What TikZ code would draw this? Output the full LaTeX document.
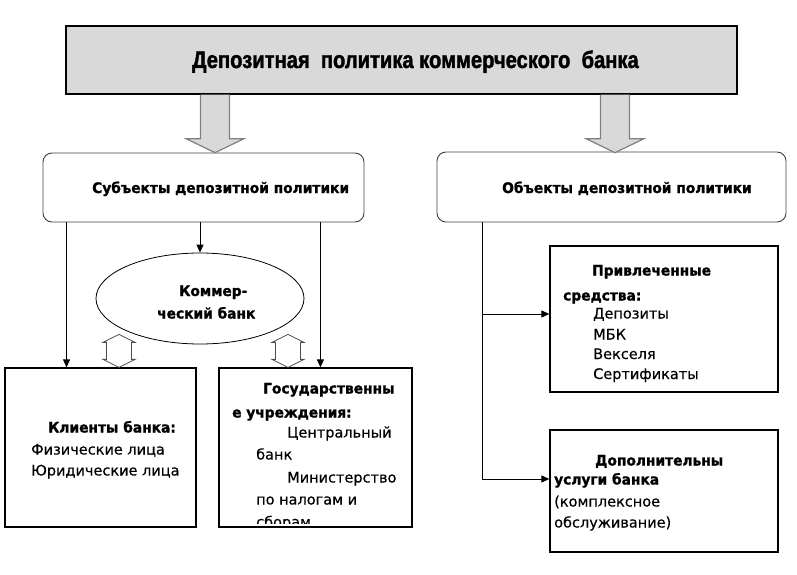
\documentclass[tikz,border=0pt]{standalone}
\usepackage{fontspec}
\setmainfont{DejaVu Sans}[UprightFeatures={FakeBold=0.4}, BoldFeatures={FakeStretch=0.95, FakeBold=1.2}]
\newfontfamily\titlefont{Liberation Sans}[FakeStretch=0.84, BoldFeatures={FakeBold=1.5}]
\usetikzlibrary{shapes.geometric,arrows.meta,calc}
\tikzset{
  box/.style={draw, line width=1.3pt, inner sep=0pt},
  roundbox/.style={draw=black!75, line width=0.9pt, rounded corners=9pt, inner sep=0pt},
  txt/.style={anchor=base west, inner sep=0pt, font=\fontsize{14.5}{17}\selectfont},
  conn/.style={line width=0.9pt, -{Triangle[length=8pt,width=7pt]}},
  bigarrow/.pic={\filldraw[draw=black!50, fill=gray!30, line width=1.2pt]
    (-14.5,0) -- (-14.5,44) -- (-29,44) -- (0,58) -- (29,44) -- (14.5,44) -- (14.5,0);},
  dblarrow/.pic={\filldraw[draw=black!70, fill=white, line width=0.8pt]
    (0,0) -- (-16,8) -- (-12.5,8) -- (-12.5,25) -- (-16,25) -- (0,33)
    -- (16,25) -- (12.5,25) -- (12.5,8) -- (16,8) -- cycle;}
}
\begin{document}
\begin{tikzpicture}[x=1pt, y=-1pt]%
    \useasboundingbox (0,0) rectangle (797,575);
    \node[box, fill=gray!30, minimum width=671pt, minimum height=68pt] (title) at (401.5,60) {};
    \node[anchor=base west, inner sep=0pt, font=\titlefont\bfseries\fontsize{24}{28}\selectfont] (titletext) at (192,68) {Депозитная\ \ политика коммерческого\ \ банка};
    \node[roundbox, minimum width=321pt, minimum height=69pt] (subj) at (203.5,187.5) {};
    \node[txt] (subjtext) at (92,193) {\textbf{Субъекты депозитной политики}};
    \node[roundbox, minimum width=349pt, minimum height=70pt] (obj) at (611.5,187) {};
    \node[txt] (objtext) at (502,193) {\textbf{Объекты депозитной политики}};
    \pic at ($(title.south)+(-186.5,0)$) {bigarrow};
    \pic at ($(title.south)+(213.5,0)$) {bigarrow};
    \node[draw, ellipse, line width=0.8pt, minimum width=208pt, minimum height=91pt, inner sep=0pt] (kb) at (200,298.5) {};
    \node[txt] (kbtext1) at (179,296) {\textbf{Коммер-}};
    \node[txt] (kbtext2) at (157,318.5) {\textbf{ческий банк}};
    \node[box, minimum width=191pt, minimum height=159pt] (clients) at (100.5,447.5) {};
    \node[box, minimum width=193pt, minimum height=159pt] (gov) at (315.5,447.5) {};
    \node[box, minimum width=228pt, minimum height=146pt] (priv) at (664,319) {};
    \node[box, minimum width=228pt, minimum height=122pt] (dop) at (664,491) {};
    \coordinate (subjl) at ([xshift=24pt]subj.south west);
    \coordinate (subjr) at ([xshift=-44pt]subj.south east);
    \coordinate (trunk) at ([xshift=46pt]obj.south west);
    \coordinate (privin) at ([yshift=5pt]priv.west);
    \coordinate (dopin) at ([yshift=12pt]dop.west);
    \draw[conn] (subjl) -- (subjl |- clients.north);
    \draw[conn] (subj.south -| kb.north) -- (kb.north);
    \draw[conn] (subjr) -- (subjr |- gov.north);
    \draw[conn] (trunk |- privin) -- (privin);
    \draw[conn] (trunk) |- (dopin);
    \pic at ($(clients.north)+(18.5,-33)$) {dblarrow};
    \pic at ($(gov.north)+(-27.5,-33)$) {dblarrow};
    \foreach \t/\x/\y [count=\i] in {{\textbf{Клиенты банка:}}/48/432.5, Физические лица/31/454.5, Юридические лица/31/475.5}
        \node[txt] (clients-\i) at (\x,\y) {\t};
    \begin{scope}
        \clip (gov.north west) rectangle ([yshift=4pt]gov.south east);
        \foreach \t/\x/\y [count=\i] in {{\textbf{Государственны}}/263/393.5, {\textbf{е учреждения:}}/232/417.5,
            Центральный/287/437.5, банк/256/459.5, Министерство/287/482.5, по налогам и/256/504.5, сборам/256/527}
            \node[txt] (gov-\i) at (\x,\y) {\t};
    \end{scope}
    \foreach \t/\x/\y [count=\i] in {{\textbf{Привлеченные}}/592/275.5, {\textbf{средства:}}/563/300.5,
        Депозиты/593/318.5, МБК/593/339.5, Векселя/593/359, Сертификаты/593/379}
        \node[txt] (priv-\i) at (\x,\y) {\t};
    \foreach \t/\x/\y [count=\i] in {{\textbf{Дополнительны}}/595/465.5, {\textbf{услуги банка}}/554/484.5,
        {(комплексное}/554/506.5, {обслуживание)}/554/527.5}
        \node[txt] (dop-\i) at (\x,\y) {\t};
\end{tikzpicture}
\end{document}
